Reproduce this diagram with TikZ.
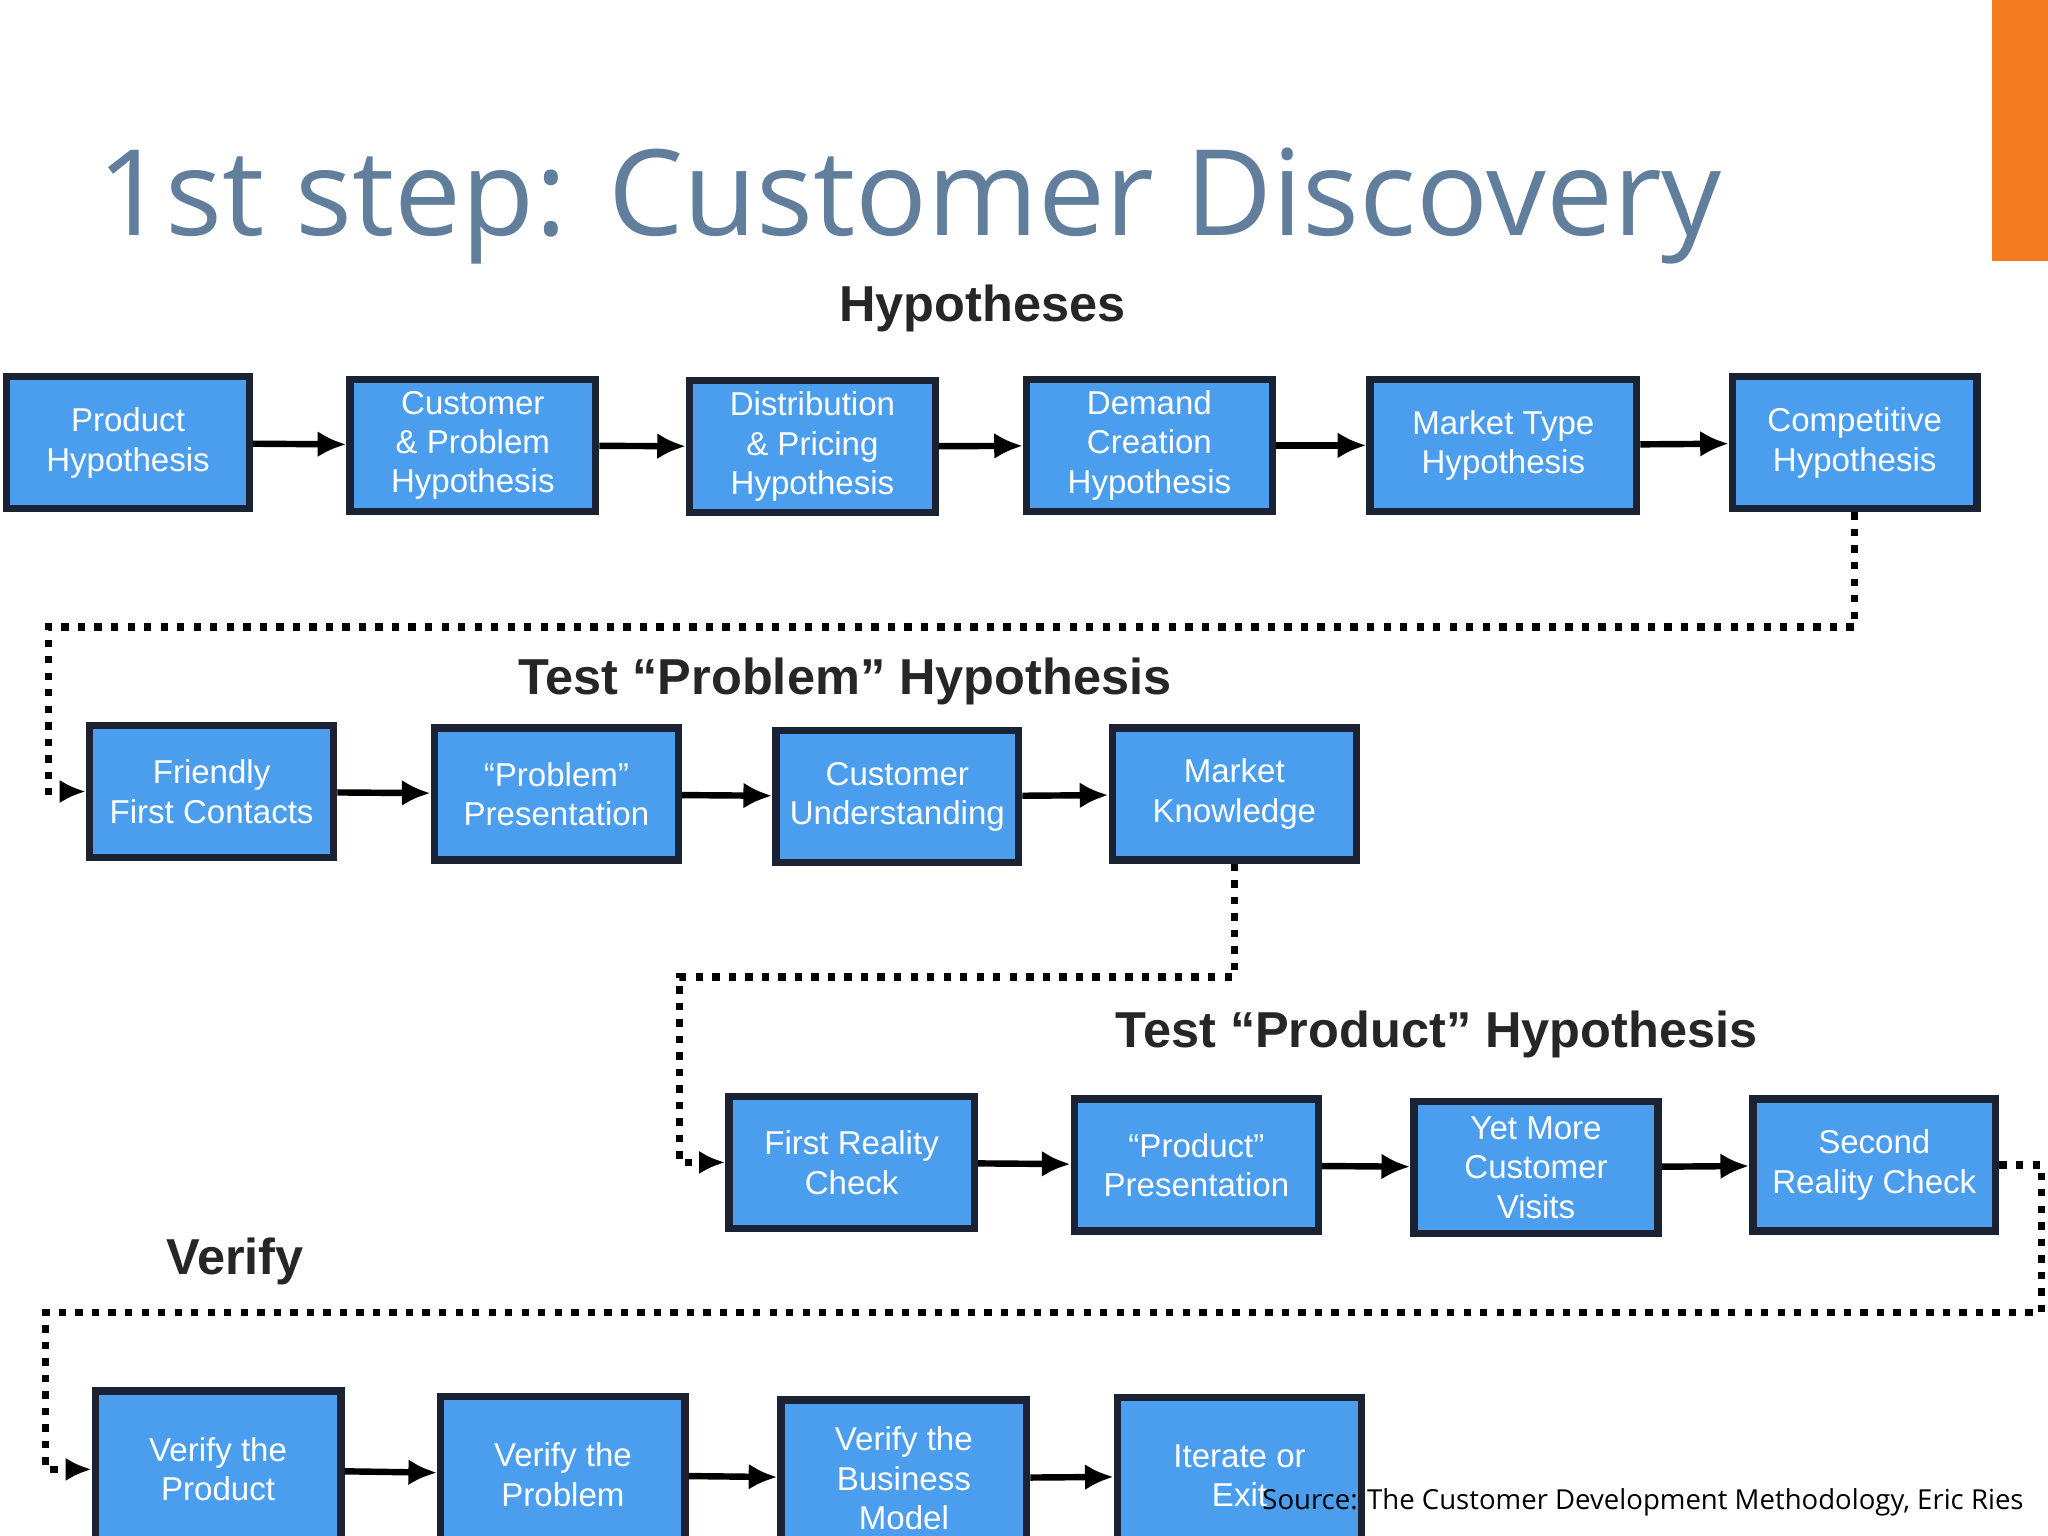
\documentclass[tikz,border=0pt]{standalone}
\usepackage{fontspec}
\setmainfont{Liberation Sans}
\newfontfamily\titlefont{Open Sans}
\usetikzlibrary{arrows.meta}
\definecolor{boxblue}{HTML}{4B9EEE}
\definecolor{boxline}{HTML}{1A2233}
\definecolor{titleblue}{HTML}{617F9C}
\definecolor{barorange}{HTML}{F47B20}
\tikzset{
  stage/.style={draw=boxline, line width=1.6pt, fill=boxblue, text=white,
    minimum height=1.01cm, inner sep=0pt, align=center,
    font=\fontsize{7.2}{8.6}\selectfont},
  flow/.style={-{Latex[length=2.2mm,width=2mm]}, line width=1.4pt},
  hop/.style={-{Latex[length=2mm,width=1.8mm]}, line width=1.6pt, dotted},
  head/.style={font=\bfseries\fontsize{11}{13}\selectfont, text=black!85}
}
\begin{document}
\begin{tikzpicture}[x=1cm,y=1cm]
\useasboundingbox (0,0) rectangle (15.68,-11.76);
\clip (0,0) rectangle (15.68,-11.76);
\fill[barorange] (15.25,0) rectangle (15.68,-2.0);
\node[anchor=base west, text=titleblue, inner sep=0pt,
  font=\titlefont\fontsize{26}{31}\selectfont] (title) at (0.74,-1.80) {1st step: Customer Discovery};

\node[head] (h1) at (7.52,-2.36) {Hypotheses};
\node[head] (h2) at (6.47,-5.22) {Test “Problem” Hypothesis};
\node[head] (h3) at (11.00,-7.92) {Test “Product” Hypothesis};
\node[head] (h4) at (1.80,-9.66) {Verify};

% Row 1
\node[stage, minimum width=1.86cm] (a1) at (0.98,-3.39) {Product\\Hypothesis};
\node[stage, minimum width=1.88cm] (a2) at (3.62,-3.41) {Customer\\\& Problem\\Hypothesis};
\node[stage, minimum width=1.88cm] (a3) at (6.22,-3.42) {Distribution\\\& Pricing\\Hypothesis};
\node[stage, minimum width=1.88cm] (a4) at (8.80,-3.41) {Demand\\Creation\\Hypothesis};
\node[stage, minimum width=2.04cm] (a5) at (11.51,-3.41) {Market Type\\Hypothesis};
\node[stage, minimum width=1.87cm] (a6) at (14.20,-3.39) {Competitive\\Hypothesis};
% Row 2
\node[stage, minimum width=1.87cm] (b1) at (1.62,-6.06) {Friendly\\First Contacts};
\node[stage, minimum width=1.87cm] (b2) at (4.26,-6.08) {“Problem”\\Presentation};
\node[stage, minimum width=1.86cm] (b3) at (6.87,-6.10) {Customer\\Understanding};
\node[stage, minimum width=1.87cm] (b4) at (9.45,-6.08) {Market\\Knowledge};
% Row 3
\node[stage, minimum width=1.88cm] (c1) at (6.52,-8.90) {First Reality\\Check};
\node[stage, minimum width=1.87cm] (c2) at (9.16,-8.92) {“Product”\\Presentation};
\node[stage, minimum width=1.87cm] (c3) at (11.76,-8.94) {Yet More\\Customer\\Visits};
\node[stage, minimum width=1.86cm] (c4) at (14.35,-8.92) {Second\\Reality Check};
% Row 4
\node[stage, minimum width=1.88cm, minimum height=1.2cm] (d1) at (1.67,-11.25) {Verify the\\Product};
\node[stage, minimum width=1.87cm, minimum height=1.2cm] (d2) at (4.31,-11.29) {Verify the\\Problem};
\node[stage, minimum width=1.88cm, minimum height=1.2cm] (d3) at (6.92,-11.32) {Verify the\\Business\\Model};
\node[stage, minimum width=1.87cm, minimum height=1.2cm] (d4) at (9.49,-11.30) {Iterate or\\Exit};

\foreach \u/\v in {a1/a2,a2/a3,a3/a4,a4/a5,a5/a6,b1/b2,b2/b3,b3/b4,c1/c2,c2/c3,c3/c4,d1/d2,d2/d3,d3/d4}
  \draw[flow] (\u) -- (\v);

\coordinate (k1) at (14.20,-4.80);
\coordinate (k2) at (0.37,-4.80);
\draw[hop] (a6.south) -- (k1) -- (k2) |- (b1.west);
\coordinate (k3) at (9.45,-7.48);
\coordinate (k4) at (5.20,-7.48);
\draw[hop] (b4.south) -- (k3) -- (k4) |- (c1.west);
\coordinate (k5) at (15.63,-8.92);
\coordinate (k6) at (15.63,-10.05);
\coordinate (k7) at (0.35,-10.05);
\draw[hop] (c4.east) -- (k5) -- (k6) -- (k7) |- (d1.west);

\node[anchor=base east, inner sep=0pt, font=\titlefont\fontsize{6}{7}\selectfont] (src)
  at (15.50,-11.56) {Source: The Customer Development Methodology, Eric Ries};
\end{tikzpicture}
\end{document}
